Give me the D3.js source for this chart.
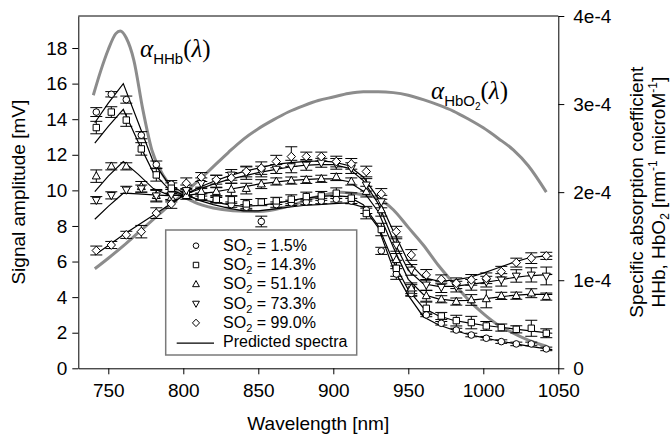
<!DOCTYPE html>
<html>
<head>
<meta charset="utf-8">
<script src="https://cdn.jsdelivr.net/npm/d3@7"></script>
<style>
body{margin:0;background:#fff;}
svg{display:block;font-family:"Liberation Sans",Arial,sans-serif;}
</style>
</head>
<body>
<svg width="672" height="439"></svg>
<script>
// measured wavelengths [nm]
const lambda = [742,752,762,772,782,792,802,812,822,832,842,852,862,872,882,892,902,912,922,932,942,952,962,972,982,992,1002,1012,1022,1032,1042];

// measured signal amplitude [mV] and errors, one list per SO2 level
const so2Labels = ['1.5%','14.3%','51.1%','73.3%','99.0%'];
const sig15 = [14.4,15.4,15.1,13.1,11.45,10.35,9.8,9.65,9.45,9.2,9.05,8.25,9.2,9.3,9.35,9.4,9.5,9.4,8.9,6.6,5.3,4.2,3.0,2.53,2.15,1.87,1.69,1.5,1.37,1.37,1.09];
const sig143 = [13.53,14.4,13.95,12.33,10.87,10.12,9.84,9.65,9.5,9.47,9.24,9.34,9.41,9.5,9.65,9.69,9.84,9.56,8.7,7.8,5.62,4.4,3.37,2.94,2.68,2.57,2.38,2.29,2.19,2.25,1.97];
const sig511 = [10.8,11.35,11.35,10.2,9.7,9.6,9.7,9.93,9.93,10.05,10.1,10.35,10.5,10.55,10.59,10.65,10.75,10.5,9.93,8.9,6.1,4.5,4.07,3.88,3.75,3.84,3.9,4.07,4.08,4.22,4.03];
const sig733 = [9.45,9.72,10.03,10.1,9.7,9.75,10.0,10.4,10.5,10.87,10.97,11.06,11.2,11.34,11.43,11.55,11.49,11.25,10.31,9.37,6.93,5.53,4.69,4.56,4.59,4.69,4.87,4.97,5.19,5.25,5.19];
const sig990 = [6.62,6.93,7.5,7.68,8.72,9.24,10.4,10.75,10.6,10.7,11.06,11.25,11.62,11.9,11.9,11.9,11.62,11.49,11.06,9.8,7.68,6.37,5.25,5.0,4.78,4.97,5.06,5.43,5.94,6.19,6.32];

const err15 = [0.25,0.15,0.2,0.2,0.2,0.2,0.15,0.15,0.15,0.15,0.15,0.3,0.15,0.15,0.15,0.15,0.15,0.15,0.2,0.2,0.3,0.15,0.1,0.1,0.1,0.1,0.1,0.1,0.1,0.1,0.1];
const err143 = [0.35,0.3,0.35,0.35,0.35,0.3,0.2,0.2,0.2,0.2,0.25,0.2,0.2,0.25,0.25,0.25,0.3,0.3,0.3,0.35,0.45,0.3,0.35,0.2,0.3,0.35,0.25,0.2,0.2,0.45,0.25];
const err511 = [0.35,0.2,0.2,0.3,0.3,0.25,0.2,0.25,0.25,0.35,0.3,0.25,0.2,0.2,0.2,0.2,0.2,0.2,0.3,0.35,0.35,0.3,0.3,0.2,0.2,0.3,0.5,0.2,0.2,0.25,0.2];
const err733 = [0.2,0.2,0.2,0.2,0.35,0.3,0.3,0.3,0.35,0.3,0.35,0.3,0.25,0.35,0.3,0.25,0.3,0.3,0.35,0.35,0.35,0.3,0.3,0.3,0.3,0.3,0.3,0.35,0.35,0.4,0.5];
const err990 = [0.25,0.2,0.2,0.35,0.3,0.25,0.3,0.25,0.25,0.3,0.3,0.35,0.35,0.55,0.25,0.25,0.3,0.3,0.3,0.3,0.3,0.3,0.3,0.25,0.3,0.3,0.3,0.3,0.25,0.3,0.2];

// predicted spectra
const predLambda = [741,750,760,770,780,790,800,810,820,830,840,850,860,870,880,890,900,910,920,930,940,950,960,970,980,990,1000,1010,1020,1030,1040,1046];
const pred15 = [13.8,14.9,16.0,13.8,11.6,10.4,9.85,9.45,9.2,9.0,8.85,8.85,8.95,9.05,9.15,9.2,9.25,9.3,9.05,7.9,5.6,4.1,2.9,2.45,2.15,1.9,1.72,1.55,1.4,1.25,1.12,1.05];
const pred143 = [12.65,13.6,14.55,12.7,11.0,10.1,9.75,9.5,9.35,9.2,9.1,9.15,9.25,9.4,9.55,9.65,9.7,9.65,9.2,8.0,6.0,4.4,3.4,2.95,2.7,2.55,2.42,2.32,2.22,2.12,2.02,1.97];
const pred511 = [9.93,10.8,11.62,10.9,10.1,9.75,9.7,9.8,9.9,10.05,10.2,10.35,10.45,10.55,10.6,10.65,10.65,10.5,9.95,8.8,6.8,5.0,4.15,3.9,3.8,3.82,3.9,4.0,4.1,4.15,4.15,4.15];
const pred733 = [8.38,9.1,9.84,9.8,9.75,9.7,9.75,10.05,10.35,10.6,10.8,11.0,11.15,11.3,11.4,11.45,11.45,11.25,10.55,9.25,7.2,5.5,4.75,4.6,4.6,4.7,4.82,4.95,5.1,5.2,5.25,5.28];
const pred990 = [6.37,6.9,7.5,8.05,8.6,9.15,9.7,10.15,10.5,10.8,11.05,11.25,11.45,11.55,11.62,11.65,11.6,11.4,10.75,9.55,7.7,6.0,5.1,4.9,4.95,5.1,5.35,5.65,5.95,6.2,6.3,6.3];

// specific absorption coefficients (units of 1e-4 mm^-1 microM^-1)
const hhbLambda = [740,745,750,755,758,762,767,773,779,787,796,807,820,833,850,870,890,905,920,930,940,950,960,970,980,990,1000,1010,1020,1030,1042];
const hhbAbs = [3.1,3.38,3.62,3.8,3.83,3.75,3.5,2.94,2.48,2.18,2.0,1.89,1.82,1.79,1.78,1.84,1.95,2.0,1.97,1.93,1.8,1.6,1.4,1.17,0.97,0.78,0.62,0.49,0.4,0.32,0.25];
const hbo2Lambda = [741,750,760,770,780,790,800,810,820,830,840,850,860,870,880,890,900,910,920,930,940,950,960,970,980,990,1000,1010,1020,1030,1042];
const hbo2Abs = [1.13,1.25,1.39,1.54,1.69,1.84,1.98,2.13,2.29,2.45,2.6,2.72,2.82,2.91,2.98,3.04,3.08,3.12,3.14,3.14,3.13,3.1,3.05,2.99,2.92,2.83,2.73,2.61,2.48,2.3,2.0];

// ticks
const xTicks = [750,800,850,900,950,1000,1050];
const yTicks = [0,2,4,6,8,10,12,14,16,18];
const rTicks = [0,1,2,3,4];
const rTickLabels = ['0','1e-4','2e-4','3e-4','4e-4'];

function whenLoaded(){
    const svg = d3.select('svg');
    const width = +svg.attr('width');
    const height = +svg.attr('height');
    const margin = {top:16,right:113.7,bottom:70.7,left:78.3};
    const innerWidth = width - margin.left - margin.right;
    const innerHeight = height - margin.top - margin.bottom;
    const font = '"Liberation Sans",Arial,sans-serif';
    const serif = '"Liberation Serif","Times New Roman",serif';
    const gray = '#8c8c8c';

    const xScale = d3.scaleLinear().domain([730,1050]).range([0,innerWidth]);
    const yScale = d3.scaleLinear().domain([0,19.8]).range([innerHeight,0]);
    const yRight = d3.scaleLinear().domain([0,4]).range([innerHeight,0]);

    const g = svg.append('g')
        .attr('transform',`translate(${margin.left},${margin.top})`);

    // axes
    const styleAxis = sel => {
        sel.attr('font-size',19).attr('font-family',font);
        sel.selectAll('path,line').attr('stroke','#000').attr('stroke-width',1);
        sel.selectAll('text').attr('fill','#000');
    };
    g.append('g')
        .attr('transform',`translate(0,${innerHeight})`)
        .call(d3.axisBottom(xScale).tickValues(xTicks).tickSize(6).tickSizeOuter(0).tickPadding(9).tickFormat(d3.format('d')))
        .call(styleAxis);
    g.append('g')
        .call(d3.axisLeft(yScale).tickValues(yTicks).tickSize(6).tickSizeOuter(0).tickPadding(5))
        .call(styleAxis);
    g.append('g')
        .attr('transform',`translate(${innerWidth},0)`)
        .call(d3.axisRight(yRight).tickValues(rTicks).tickSize(6).tickSizeOuter(0).tickPadding(9).tickFormat((d,i)=>rTickLabels[i]))
        .call(styleAxis);
    g.append('line')
        .attr('x1',0).attr('x2',innerWidth).attr('y1',0).attr('y2',0)
        .attr('stroke','#000');

    // absorption curves
    const absLine = (lam) => d3.line()
        .x((d,i) => xScale(lam[i]))
        .y(d => yRight(d))
        .curve(d3.curveMonotoneX);
    g.append('path').attr('d',absLine(hhbLambda)(hhbAbs))
        .attr('fill','none').attr('stroke',gray).attr('stroke-width',3);
    g.append('path').attr('d',absLine(hbo2Lambda)(hbo2Abs))
        .attr('fill','none').attr('stroke',gray).attr('stroke-width',3);

    // predicted spectra
    const predLine = d3.line()
        .x((d,i) => xScale(predLambda[i]))
        .y(d => yScale(d));
    [pred15,pred143,pred511,pred733,pred990].forEach(p => {
        g.append('path').attr('d',predLine(p))
            .attr('fill','none').attr('stroke','#000').attr('stroke-width',1.2);
    });

    // marker shapes
    const shapes = [
        s => `M${s},0A${s},${s} 0 1,1 ${-s},0A${s},${s} 0 1,1 ${s},0Z`,
        s => `M${-s},${-s}H${s}V${s}H${-s}Z`,
        s => `M0,${-s*1.1}L${s},${s*0.7}L${-s},${s*0.7}Z`,
        s => `M0,${s*1.1}L${s},${-s*0.7}L${-s},${-s*0.7}Z`,
        s => `M0,${-s*1.15}L${s*1.1},0L0,${s*1.15}L${-s*1.1},0Z`
    ];
    const shapeSize = [3.3,3.2,4,4,3.8];
    const series = [
        {v:sig15,e:err15},{v:sig143,e:err143},{v:sig511,e:err511},
        {v:sig733,e:err733},{v:sig990,e:err990}
    ];
    const cap = 6;
    series.forEach((s,k) => {
        const eg = g.append('g').attr('stroke','#000').attr('stroke-width',1);
        s.v.forEach((v,i) => {
            const x = xScale(lambda[i]);
            const y1 = yScale(v + s.e[i]), y0 = yScale(v - s.e[i]);
            eg.append('line').attr('x1',x).attr('x2',x).attr('y1',y1).attr('y2',y0);
            eg.append('line').attr('x1',x-cap).attr('x2',x+cap).attr('y1',y1).attr('y2',y1);
            eg.append('line').attr('x1',x-cap).attr('x2',x+cap).attr('y1',y0).attr('y2',y0);
        });
    });
    series.forEach((s,k) => {
        g.append('g').selectAll('path').data(s.v).enter()
            .append('path')
            .attr('d',shapes[k](shapeSize[k]))
            .attr('transform',(d,i)=>`translate(${xScale(lambda[i])},${yScale(d)})`)
            .attr('fill','#fff').attr('stroke','#000').attr('stroke-width',1);
    });

    // curve labels
    const lab1 = svg.append('text').attr('x',140).attr('y',57).attr('font-family',serif).attr('font-size',25);
    lab1.append('tspan').attr('font-style','italic').text('α');
    lab1.append('tspan').attr('font-family',font).attr('font-size',15).attr('dy',7).text('HHb');
    lab1.append('tspan').attr('dy',-7).text('(');
    lab1.append('tspan').attr('font-style','italic').text('λ');
    lab1.append('tspan').text(')');

    const lab2 = svg.append('text').attr('x',431).attr('y',99).attr('font-family',serif).attr('font-size',25);
    lab2.append('tspan').attr('font-style','italic').text('α');
    lab2.append('tspan').attr('font-family',font).attr('font-size',15).attr('dy',7).text('HbO');
    lab2.append('tspan').attr('font-family',font).attr('font-size',10).attr('dy',4).text('2');
    lab2.append('tspan').attr('dy',-11).text('(');
    lab2.append('tspan').attr('font-style','italic').text('λ');
    lab2.append('tspan').text(')');

    // axis titles
    svg.append('text')
        .attr('x',margin.left + innerWidth/2).attr('y',430)
        .attr('text-anchor','middle').attr('font-size',19).attr('font-family',font)
        .text('Wavelength [nm]');
    svg.append('text')
        .attr('transform',`translate(24.5,${margin.top+innerHeight/2}) rotate(-90)`)
        .attr('text-anchor','middle').attr('font-size',19).attr('font-family',font)
        .text('Signal amplitude [mV]');
    svg.append('text')
        .attr('transform',`translate(643,${margin.top+innerHeight/2}) rotate(-90)`)
        .attr('text-anchor','middle').attr('font-size',19).attr('font-family',font)
        .text('Specific absorption coefficient');
    const rt = svg.append('text')
        .attr('transform',`translate(665,${margin.top+innerHeight/2}) rotate(-90)`)
        .attr('text-anchor','middle').attr('font-size',19).attr('font-family',font);
    rt.append('tspan').text('HHb, HbO');
    rt.append('tspan').attr('font-size',12).attr('dy',4).text('2');
    rt.append('tspan').attr('dy',-4).text(' [mm');
    rt.append('tspan').attr('font-size',12).attr('dy',-8).text('-1');
    rt.append('tspan').attr('dy',8).text('  microM');
    rt.append('tspan').attr('font-size',12).attr('dy',-8).text('-1');
    rt.append('tspan').attr('dy',8).text(']');

    // legend
    const lg = svg.append('g');
    lg.append('rect')
        .attr('x',165.7).attr('y',230).attr('width',191).attr('height',125)
        .attr('fill','#fff').attr('stroke','#7a7a7a').attr('stroke-width',1.5);
    so2Labels.forEach((lbl,k) => {
        const by = 250.7 + k*19.3;
        lg.append('path').attr('d',shapes[k](shapeSize[k]*0.85))
            .attr('transform',`translate(196,${by-5})`)
            .attr('fill','#fff').attr('stroke','#000').attr('stroke-width',1);
        const t = lg.append('text').attr('x',223).attr('y',by)
            .attr('font-size',16).attr('font-family',font);
        t.append('tspan').text('SO');
        t.append('tspan').attr('font-size',11).attr('dy',4).text('2');
        t.append('tspan').attr('dy',-4).text(' = ' + lbl);
    });
    const ly = 250.7 + 5*19.3;
    lg.append('line').attr('x1',176.7).attr('x2',214).attr('y1',ly-4).attr('y2',ly-4)
        .attr('stroke','#000').attr('stroke-width',1.2);
    lg.append('text').attr('x',223).attr('y',ly)
        .attr('font-size',16).attr('font-family',font).text('Predicted spectra');
}

window.onload = whenLoaded;
</script>
</body>
</html>
